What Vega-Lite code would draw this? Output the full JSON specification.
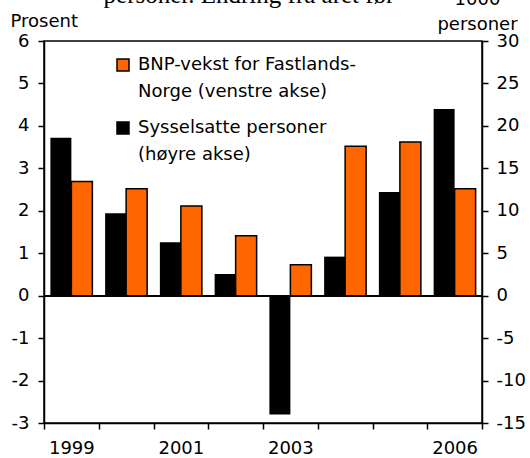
{
  "$schema": "https://vega.github.io/schema/vega-lite/v6.json",
  "width": 438,
  "height": 382,
  "autosize": {"type": "none"},
  "padding": {"left": 44, "top": 41, "right": 48, "bottom": 35},
  "title": {"text": "personer. Endring fra året før", "font": "Liberation Serif", "fontSize": 25, "fontWeight": "normal", "color": "black", "frame": "group", "anchor": "middle", "baseline": "alphabetic", "offset": 0, "dy": 38, "dx": -14},
  "data": {"values": [
    {"year": "1999", "bnp": 2.69, "syss": 18.6},
    {"year": "2000", "bnp": 2.52, "syss": 9.7},
    {"year": "2001", "bnp": 2.11, "syss": 6.3},
    {"year": "2002", "bnp": 1.41, "syss": 2.55},
    {"year": "2003", "bnp": 0.73, "syss": -14.0},
    {"year": "2004", "bnp": 3.52, "syss": 4.6},
    {"year": "2005", "bnp": 3.62, "syss": 12.2},
    {"year": "2006", "bnp": 2.52, "syss": 22.0}
  ]},
  "layer": [
    {
      "layer": [
        {
          "mark": {"type": "bar", "width": 21, "xOffset": 10.5, "stroke": "black", "strokeWidth": 1.5},
          "encoding": {
            "x": {"field": "year", "type": "ordinal", "scale": {"paddingInner": 0, "paddingOuter": 0}, "axis": {"title": null, "labelAngle": 0, "tickBand": "extent", "labelPadding": 10, "labelExpr": "indexof(['1999','2001','2003','2006'], datum.label) >= 0 ? datum.label : ''"}},
            "y": {"field": "bnp", "type": "quantitative", "scale": {"domain": [-3, 6], "nice": false, "zero": false}, "axis": {"orient": "left", "values": [-3, -2, -1, 0, 1, 2, 3, 4, 5, 6], "title": "Prosent", "titleAngle": 0, "titleAlign": "left", "titleBaseline": "alphabetic", "titleX": -34, "titleY": -15, "labelPadding": 9, "labelOverlap": false, "labelExpr": "replace(datum.label, '−', '-')"}},
            "color": {"datum": "BNP", "type": "nominal", "scale": {"domain": ["BNP", "Syss"], "range": ["#FF6600", "#000000"]}, "legend": {"orient": "none", "legendX": 70, "legendY": 15, "title": null, "symbolType": "square", "symbolSize": 144, "symbolStrokeColor": "black", "symbolStrokeWidth": 1.5, "labelFont": "DejaVu Sans", "labelFontSize": 18, "labelColor": "black", "labelLimit": 400, "labelOffset": 6, "rowPadding": 18, "labelExpr": "datum.label == 'BNP' ? ['BNP-vekst for Fastlands-', 'Norge (venstre akse)'] : ['Sysselsatte personer', '(høyre akse)']", "encoding": {"labels": {"lineHeight": {"value": 27}}}}}
          }
        },
        {
          "mark": {"type": "rule", "color": "black", "strokeWidth": 1.5},
          "encoding": {"y": {"datum": 0, "type": "quantitative"}}
        }
      ]
    },
    {
      "mark": {"type": "bar", "width": 21, "xOffset": -10.5},
      "encoding": {
        "x": {"field": "year", "type": "ordinal", "scale": {"paddingInner": 0, "paddingOuter": 0}, "axis": {"title": null, "labelAngle": 0, "tickBand": "extent", "labelPadding": 10, "labelExpr": "indexof(['1999','2001','2003','2006'], datum.label) >= 0 ? datum.label : ''"}},
        "y": {"field": "syss", "type": "quantitative", "scale": {"domain": [-15, 30], "nice": false, "zero": false}, "axis": {"orient": "right", "values": [-15, -10, -5, 0, 5, 10, 15, 20, 25, 30], "title": ["1000", "personer"], "titleAngle": 0, "titleAlign": "center", "titleBaseline": "alphabetic", "titleX": -5, "titleY": -37, "titleLineHeight": 25, "labelPadding": 8, "labelOverlap": false, "labelExpr": "replace(datum.label, '−', '-')"}},
        "color": {"datum": "Syss", "type": "nominal"}
      }
    }
  ],
  "resolve": {"scale": {"y": "independent"}},
  "config": {
    "font": "DejaVu Sans",
    "view": {"stroke": "black", "strokeWidth": 1.5},
    "axis": {"domainColor": "black", "domainWidth": 1.5, "tickColor": "black", "tickWidth": 1.5, "tickSize": 6, "labelColor": "black", "labelFontSize": 18, "labelFont": "DejaVu Sans", "grid": false, "titleFont": "DejaVu Sans", "titleFontSize": 18, "titleFontWeight": "normal", "titleColor": "black"}
  }
}
